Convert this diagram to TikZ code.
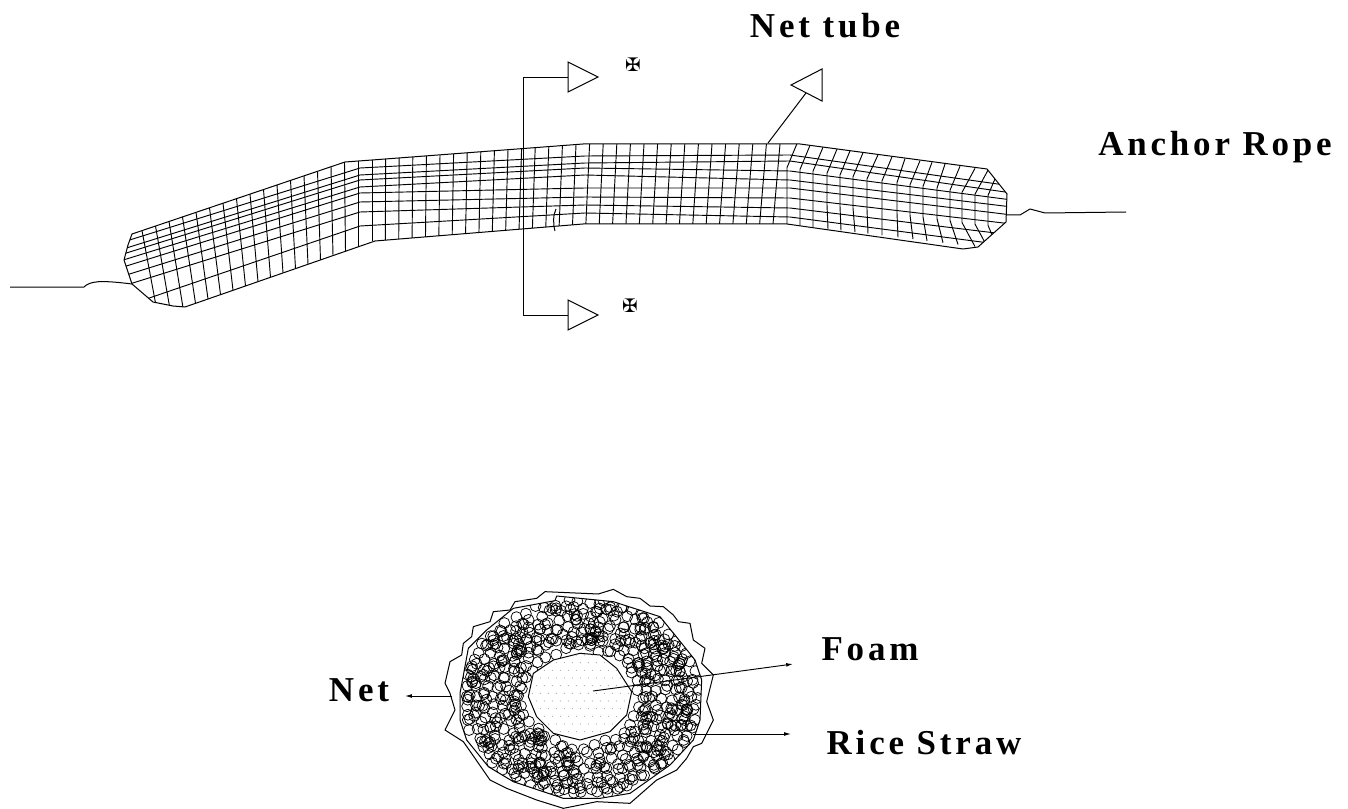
\documentclass[tikz,border=0pt]{standalone}
\usepackage{fontspec}
\usepackage{xcolor}
\usetikzlibrary{arrows.meta,calc}
\newfontfamily\labelfont[LetterSpace=11]{Liberation Serif}
\newfontfamily\crossfont{DejaVu Sans}
\tikzset{
  meshline/.style={line width=0.7pt, draw=black},
  outline/.style={line width=0.75pt, draw=black, line join=round},
  cutline/.style={line width=0.6pt, draw=black, line join=round},
  leader/.style={-{Latex[length=1.8mm,width=1mm]}, line width=0.7pt, draw=black},
  strawring/.style={line width=0.55pt, draw=black},
  arrowhead/.style={line width=0.75pt, draw=black, fill=white},
  partlabel/.style={font=\labelfont\bfseries\fontsize{26.2}{26}\selectfont, inner sep=0pt},
  crossmark/.style={font=\crossfont\bfseries\fontsize{14}{14}\selectfont, inner sep=0pt}
}
\begin{document}
\begin{tikzpicture}[x=0.75pt,y=-0.75pt]
  \useasboundingbox (0,0) rectangle (1348,809);

  \begin{scope}
    \clip (132,234) -- (345,162) -- (372,160) -- (583,144) -- (800,144) -- (987,169) -- (1007,194) -- (1006,222) -- (978,247) -- (787,224) -- (583,224) -- (375,241) -- (185,307) -- (173,306) -- (153,302) -- (132,284) -- (124,260) -- (128,245) -- cycle;
    \foreach \ya/\yb/\yc/\yd/\ye in {243/168/156/155/186, 250/175/163/161/193, 255/180/168/171/200, 261/187/175/180/207, 268/193/188/188/215, 277/202/197/198/224, 287/212/205/208/235, 308/226/213/217/246}
      \draw[meshline] (120,\ya) -- (360,\yb) -- (585,\yc) -- (790,\yd) -- (1012,\ye);
    \foreach \i in {0,...,16} {
      \pgfmathsetmacro\tx{142+13.5*\i}
      \pgfmathsetmacro\bx{\tx+16-\i}
      \draw[meshline] ({\tx},{234-(\tx-132)*0.338}) -- ({\bx},{241+(375-\bx)*0.347});
    }
    \foreach \i in {0,...,30} {
      \pgfmathsetmacro\tx{372+13.6*\i}
      \pgfmathsetmacro\bx{\tx-7*\i/30}
      \draw[meshline] ({\tx},{max(144,160-(\tx-372)*0.075)}) -- ({\bx},{max(224,241-(\bx-375)*0.081)});
    }
    \foreach \tx/\mx/\bx in {797/787/787, 810/800/800, 823/813/813, 837/827/828, 850/840/841, 863/853/855, 878/867/868, 892/882/882, 905/897/898, 920/910/913, 932/923/927, 945/937/943, 960/950/958, 975/962/975, 988/975/988, 998/988/998}
      \draw[meshline] ({\tx},{144+(\tx-800)*0.139}) -- ({\mx},{168+(\tx-800)*0.139}) -- ({\mx},{200+(\bx-787)*0.12}) -- ({\bx},{224+(\bx-787)*0.12});
  \end{scope}

  \draw[outline] (132,234) -- (345,162) -- (372,160) -- (583,144) -- (800,144) -- (987,169) -- (1007,194) -- (1006,222) -- (978,247) -- (963,249) -- (787,224) -- (583,224) -- (375,241) -- (185,307) -- (173,306) -- (153,302) -- (132,284) -- (124,260) -- (128,245) -- cycle;
  \draw[outline] (556,209) .. controls (553,215) and (553,224) .. (555,231);
  \draw[outline] (10,287) -- (84,287) .. controls (90,281) and (100,280) .. (132,284);
  \draw[outline] (1006,215) -- (1020,215) -- (1030,209) -- (1045,213) -- (1126,212);

  \coordinate (cuttop) at (568,77);
  \coordinate (cutbottom) at (568,315);
  \draw[cutline] (cuttop) -- (523.4,77) -- (523.4,315) -- (cutbottom);
  \draw[arrowhead] (568,62) -- (598,77) -- (568,92) -- cycle;
  \draw[arrowhead] (568,300) -- (598,315) -- (568,330) -- cycle;
  \node[crossmark] (crosstop) at (633,65) {✠};
  \node[crossmark] (crossbottom) at (630,306) {✠};

  \coordinate (tubepoint) at (768,143);
  \coordinate (tubeflag) at (806,93);
  \draw[outline] (tubepoint) -- (tubeflag);
  \draw[arrowhead] (791,85) -- (822,69) -- (822,101) -- cycle;

  \node[partlabel] (nettube) at (825,26) {Net tube};
  \node[partlabel] (anchorrope) at (1215,147) {Anchor Rope};

  \begin{scope}[shift={(400,580)},x=0.25pt,y=-0.25pt]
    \draw[outline] (435,35) -- (595,42) -- (640,28) -- (680,50) -- (720,55) -- (750,78) -- (790,80) -- (820,105) -- (835,125) -- (870,130) -- (880,180) -- (915,205) -- (905,250) -- (940,285) -- (920,365) -- (940,420) -- (905,490) -- (880,500) -- (860,535) -- (830,570) -- (770,600) -- (690,670) -- (590,665) -- (490,685) -- (410,660) -- (320,625) -- (270,600) -- (225,535) -- (190,485) -- (135,450) -- (165,390) -- (150,340) -- (135,310) -- (150,245) -- (185,225) -- (190,190) -- (215,170) -- (220,140) -- (270,125) -- (280,95) -- (330,90) -- (345,65) -- (410,55) -- cycle;
    \draw[outline] (470,48) -- (640,65) -- (780,110) -- (845,190) -- (885,240) -- (905,300) -- (900,420) -- (880,480) -- (810,555) -- (690,640) -- (600,655) -- (490,655) -- (340,605) -- (265,560) -- (200,480) -- (180,420) -- (180,340) -- (205,205) -- (260,150) -- (340,85) -- (465,62) -- cycle;
    \begin{scope}
      \clip (470,48) -- (640,65) -- (780,110) -- (845,190) -- (885,240) -- (905,300) -- (900,420) -- (880,480) -- (810,555) -- (690,640) -- (600,655) -- (490,655) -- (340,605) -- (265,560) -- (200,480) -- (180,420) -- (180,340) -- (205,205) -- (260,150) -- (340,85) -- (465,62) -- cycle;
      \pgfmathsetseed{41}
      \foreach \ring/\num in {1.0/66, 0.92/60, 0.84/55, 0.76/50, 0.68/44, 0.60/39, 0.52/34}
        \foreach \n in {1,...,\num} {
          \pgfmathsetmacro\ang{\n/\num*360+rnd*3}
          \pgfmathsetmacro\rad{\ring-0.03+rnd*0.06}
          \draw[strawring] ({543+346*\rad*cos(\ang)},{352+288*\rad*sin(\ang)}) circle[radius=4.1pt];
        }
      \foreach \n in {1,...,300} {
        \pgfmathsetmacro\ang{rnd*360}
        \pgfmathsetmacro\rad{sqrt(0.27+rnd*0.73)}
        \draw[strawring] ({543+346*\rad*cos(\ang)},{352+288*\rad*sin(\ang)}) circle[radius=4.1pt];
      }
    \end{scope}
    \draw[outline, fill=white] (540,220) -- (600,225) -- (650,265) -- (695,335) -- (680,405) -- (630,455) -- (540,480) -- (460,460) -- (410,410) -- (385,350) -- (400,280) -- (460,240) -- cycle;
    \begin{scope}
      \clip (540,220) -- (600,225) -- (650,265) -- (695,335) -- (680,405) -- (630,455) -- (540,480) -- (460,460) -- (410,410) -- (385,350) -- (400,280) -- (460,240) -- cycle;
      \foreach \i in {0,...,13}
        \foreach \j in {0,...,11}
          \fill[black!55] ({385+24*\i+12*mod(\j,2)},{225+23*\j}) circle[radius=0.35pt];
    \end{scope}
  \end{scope}

  \coordinate (netstart) at (452,696);
  \coordinate (nettip) at (405,696);
  \coordinate (foamstart) at (593,691);
  \coordinate (foamtip) at (793,664);
  \coordinate (strawstart) at (693,734);
  \coordinate (strawtip) at (791,734);
  \draw[leader] (netstart) -- (nettip);
  \draw[leader] (foamstart) -- (foamtip);
  \draw[leader] (strawstart) -- (strawtip);

  \node[partlabel] (netlabel) at (359,690) {Net};
  \node[partlabel] (foamlabel) at (870,649) {Foam};
  \node[partlabel] (strawlabel) at (924,743) {Rice Straw};
\end{tikzpicture}
\end{document}
